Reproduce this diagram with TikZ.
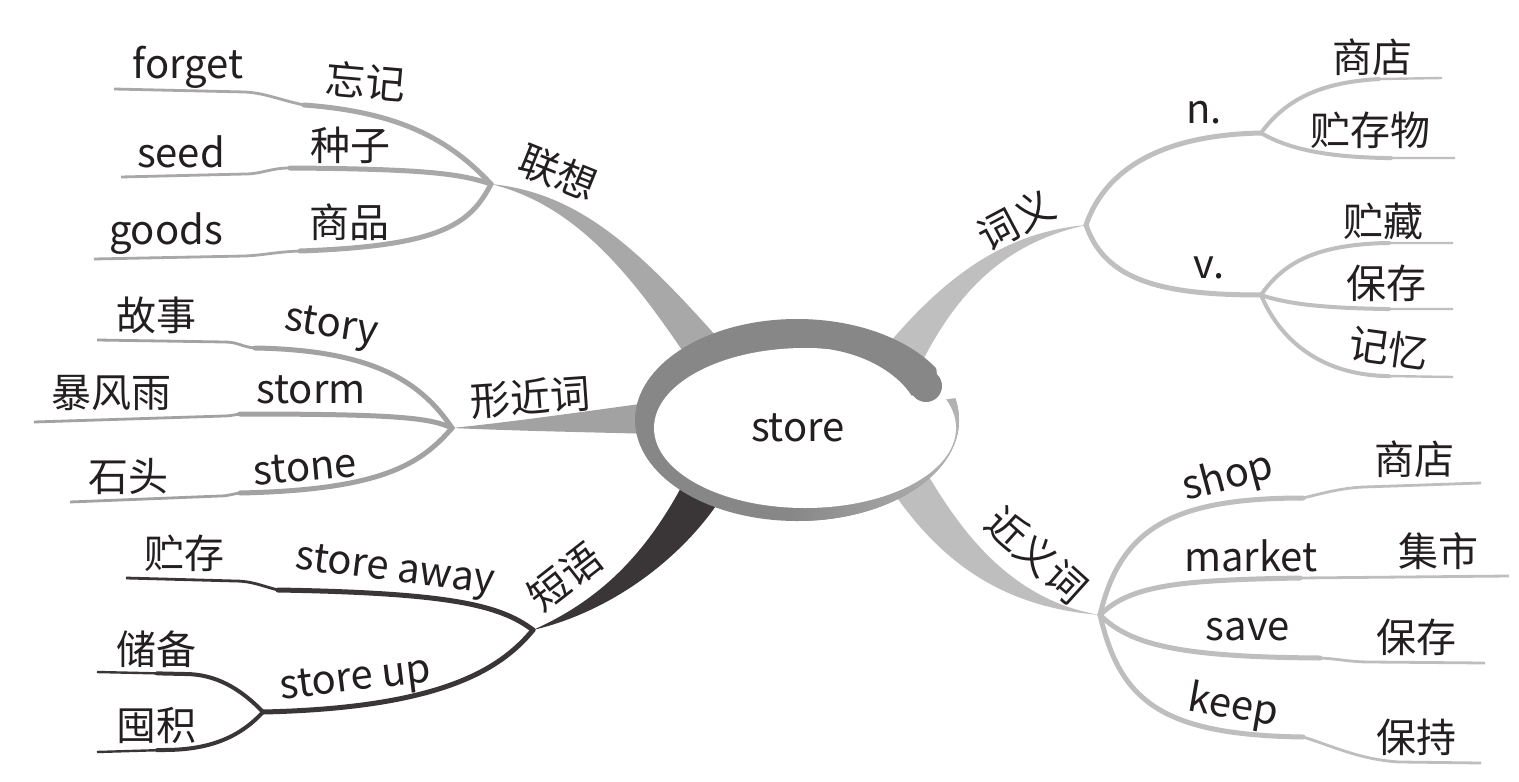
\documentclass[tikz,border=0pt]{standalone}
\usepackage{fontspec}
\setmainfont{Noto Sans CJK SC}
\definecolor{txt}{HTML}{231F20}
\definecolor{cA}{HTML}{A8A8A8}
\definecolor{cB}{HTML}{A2A2A2}
\definecolor{cC}{HTML}{3A3637}
\definecolor{cD}{HTML}{BFBFBF}
\definecolor{cE}{HTML}{BEBEBE}
\definecolor{ringc}{HTML}{878787}
\definecolor{lipc}{HTML}{B5B5B5}
\begin{document}
\begin{tikzpicture}[x=0.5pt,y=-0.5pt,
  lbl/.style={font=\fontsize{20pt}{24pt}\selectfont, text=txt, inner sep=0pt},
  thickln/.style={line width=2.5pt, line cap=round},
  thinln/.style={line width=1.4pt},
  midln/.style={line width=2pt, line cap=round},
  tailln/.style={line width=1.2pt}]
\useasboundingbox (0,0) rectangle (1519,781);
\fill[white] (0,0) rectangle (1519,781);

% hubs
\coordinate (h1) at (491,184);
\coordinate (h2) at (452,428);
\coordinate (h3) at (533,630);
\coordinate (h4) at (263,712);
\coordinate (h5) at (1086,225);
\coordinate (h6) at (1261,133);
\coordinate (h7) at (1261,295);
\coordinate (h8) at (1100,615);

% ---------- main tapered branches ----------
\fill[cA] (h1) .. controls (580,193) and (640,250) .. (724,345) -- (690,362) .. controls (630,272) and (575,205) .. (h1) -- cycle;
\fill[cB] (h2) .. controls (520,421) and (580,412) .. (655,402) -- (655,434) .. controls (580,432) and (520,431) .. (h2) -- cycle;
\fill[cC] (h3) .. controls (600,600) and (645,555) .. (683,484) -- (720,500) .. controls (680,560) and (610,612) .. (h3) -- cycle;
\fill[cD] (h5) .. controls (1010,232) and (950,270) .. (885,348) -- (920,366) .. controls (965,275) and (1020,240) .. (h5) -- cycle;
\fill[cE] (925,470) .. controls (960,530) and (1010,600) .. (h8) .. controls (1000,607) and (940,560) .. (893,492) -- cycle;

% ---------- 联想 ----------
\coordinate (sF) at (304,105); \coordinate (eF) at (114,89);
\coordinate (sS) at (290,168); \coordinate (eS) at (121,177);
\coordinate (sG) at (300,251); \coordinate (eG) at (94,259);
\draw[cA, thickln] (h1) .. controls (450,140) and (400,112) .. (sF);
\draw[cA, thinln] (sF) .. controls (280,100) and (265,93) .. (245,92) -- (eF);
\draw[cA, thickln] (h1) .. controls (460,174) and (430,169) .. (sS);
\draw[cA, thinln] (sS) .. controls (270,168) and (262,174) .. (245,174) -- (eS);
\draw[cA, thickln] (h1) .. controls (470,225) and (440,246) .. (sG);
\draw[cA, thinln] (sG) .. controls (275,252) and (265,255) .. (245,256) -- (eG);

% ---------- 形近词 ----------
\coordinate (sSy) at (255,348); \coordinate (eSy) at (97,340);
\coordinate (sSm) at (240,414); \coordinate (eSm) at (34,422);
\coordinate (sSn) at (240,493); \coordinate (eSn) at (70,502);
\draw[cB, thickln] (h2) .. controls (420,380) and (370,350) .. (sSy);
\draw[cB, thinln] (sSy) .. controls (242,347) and (238,342) .. (225,342) -- (eSy);
\draw[cB, thickln] (h2) .. controls (430,418) and (400,414) .. (sSm);
\draw[cB, thinln] (sSm) .. controls (233,415) and (230,416) .. (224,416) -- (eSm);
\draw[cB, thickln] (h2) .. controls (420,465) and (380,490) .. (sSn);
\draw[cB, thinln] (sSn) .. controls (232,494) and (228,496) .. (220,496) -- (eSn);

% ---------- 短语 ----------
\coordinate (sA) at (278,590); \coordinate (eA) at (126,578);
\coordinate (eCb) at (97,672); \coordinate (eTj) at (97,752);
\draw[cC, thickln] (h3) .. controls (500,605) and (450,593) .. (sA);
\draw[cC, thinln] (sA) .. controls (262,586) and (252,581) .. (235,581) -- (eA);
\draw[cC, thickln] (h3) .. controls (500,670) and (440,708) .. (h4);
\draw[cC, tailln] (h4) .. controls (240,688) and (215,674) .. (185,674) -- (eCb);
\draw[cC, midln, shorten >=30pt] (h4) .. controls (240,688) and (215,674) .. (185,674) -- (eCb);
\draw[cC, tailln] (h4) .. controls (240,737) and (210,750) .. (164,750) -- (eTj);
\draw[cC, midln, shorten >=30pt] (h4) .. controls (240,737) and (210,750) .. (164,750) -- (eTj);

% ---------- 词义 ----------
\coordinate (eN1) at (1442,78); \coordinate (eN2) at (1455,158);
\coordinate (eV1) at (1453,243); \coordinate (eV2) at (1453,309); \coordinate (eV3) at (1453,377);
\draw[cD, thickln] (h5) .. controls (1105,170) and (1160,135) .. (h6);
\draw[cD, thickln] (h5) .. controls (1105,280) and (1160,295) .. (h7);
\foreach \pth in {
  {(h6) .. controls (1285,100) and (1320,82) .. (1380,79) -- (eN1)},
  {(h6) .. controls (1290,150) and (1330,157) .. (1385,158) -- (eN2)},
  {(h7) .. controls (1285,260) and (1320,245) .. (1385,243) -- (eV1)},
  {(h7) .. controls (1290,305) and (1330,308) .. (1385,309) -- (eV2)},
  {(h7) .. controls (1280,340) and (1320,374) .. (1385,376) -- (eV3)}}{
  \draw[cD, tailln] \pth;
  \draw[cD, midln, shorten >=32pt] \pth;
}

% ---------- 近义词 ----------
\coordinate (sSh) at (1303,498); \coordinate (eSh) at (1481,483);
\coordinate (sMk) at (1300,578); \coordinate (eMk) at (1509,576);
\coordinate (sSv) at (1320,658); \coordinate (eSv) at (1485,663);
\coordinate (sKp) at (1303,737); \coordinate (eKp) at (1481,763);
\draw[cE, thickln] (h8) .. controls (1120,530) and (1170,498) .. (sSh);
\draw[cE, thinln] (sSh) .. controls (1320,494) and (1340,488) .. (1364,487) -- (eSh);
\draw[cE, thickln] (h8) .. controls (1130,585) and (1180,580) .. (sMk);
\draw[cE, thinln] (sMk) -- (eMk);
\draw[cE, thickln] (h8) .. controls (1130,645) and (1180,657) .. (sSv);
\draw[cE, thinln] (sSv) .. controls (1340,659) and (1350,662) .. (1370,662) -- (eSv);
\draw[cE, thickln] (h8) .. controls (1120,700) and (1160,735) .. (sKp);
\draw[cE, thinln] (sKp) .. controls (1330,745) and (1360,760) .. (1400,762) -- (eKp);

% ---------- central ring ----------
\fill[ringc] (797,420) ellipse [x radius=162, y radius=101];
\begin{scope}
  \clip (797,420) ellipse [x radius=162, y radius=101];
  \shade[left color=ringc, right color=lipc] (790,395) rectangle (965,530);
\end{scope}
\fill[white] (805,428) ellipse [x radius=151, y radius=80];
\fill[white] (936,366) -- (972,366) -- (972,396) -- (940,400) -- cycle;
\fill[ringc] (820,348) .. controls (860,352) and (895,370) .. (912,396) -- (935,372) -- (880,336) -- (820,340) -- cycle;
\fill[ringc] (926,386) circle [radius=16];
\node[lbl] (store) at (798,428) {store};

% ---------- labels ----------
\node[lbl] (forget) at (188,67) {forget};
\node[lbl, rotate=-5] (wangji) at (366,81) {忘记};
\node[lbl] (seed) at (181,152) {seed};
\node[lbl] (zhongzi) at (350,145) {种子};
\node[lbl] (goods) at (166,234) {goods};
\node[lbl] (shangpin) at (349,222) {商品};
\node[lbl, rotate=-22] (lianxiang) at (558,173) {联想};

\node[lbl] (gushi) at (156,315) {故事};
\node[lbl, rotate=-9] (story) at (331,328) {story};
\node[lbl] (baofengyu) at (111,393) {暴风雨};
\node[lbl] (storm) at (311,390) {storm};
\node[lbl] (shitou) at (128,476) {石头};
\node[lbl, rotate=5] (stone) at (305,467) {stone};
\node[lbl, rotate=4] (xingjinci) at (530,397) {形近词};

\node[lbl] (zhucun) at (184,553) {贮存};
\node[lbl, rotate=-7] (storeaway) at (395,572) {store away};
\node[lbl] (chubei) at (156,649) {储备};
\node[lbl, rotate=7] (storeup) at (356,681) {store up};
\node[lbl] (tunji) at (156,725) {囤积};
\node[lbl, rotate=38] (duanyu) at (565,577) {短语};

\node[lbl, rotate=28] (ciyi) at (1016,220) {词义};
\node[lbl] (nn) at (1204,113) {n.};
\node[lbl] (shangdianA) at (1372,57) {商店};
\node[lbl] (zhucunwu) at (1370,130) {贮存物};
\node[lbl] (vv) at (1209,268) {v.};
\node[lbl] (zhucang) at (1383,221) {贮藏};
\node[lbl] (baocunA) at (1386,283) {保存};
\node[lbl, rotate=-8] (jiyi) at (1389,348) {记忆};

\node[lbl, rotate=-42] (jinyici) at (1037,555) {近义词};
\node[lbl, rotate=15] (shop) at (1228,478) {shop};
\node[lbl] (shangdianB) at (1414,459) {商店};
\node[lbl] (market) at (1251,556) {market};
\node[lbl] (jishi) at (1438,551) {集市};
\node[lbl] (save) at (1248,630) {save};
\node[lbl] (baocunB) at (1416,637) {保存};
\node[lbl, rotate=-10] (keep) at (1233,707) {keep};
\node[lbl] (baochi) at (1416,737) {保持};
\end{tikzpicture}
\end{document}
